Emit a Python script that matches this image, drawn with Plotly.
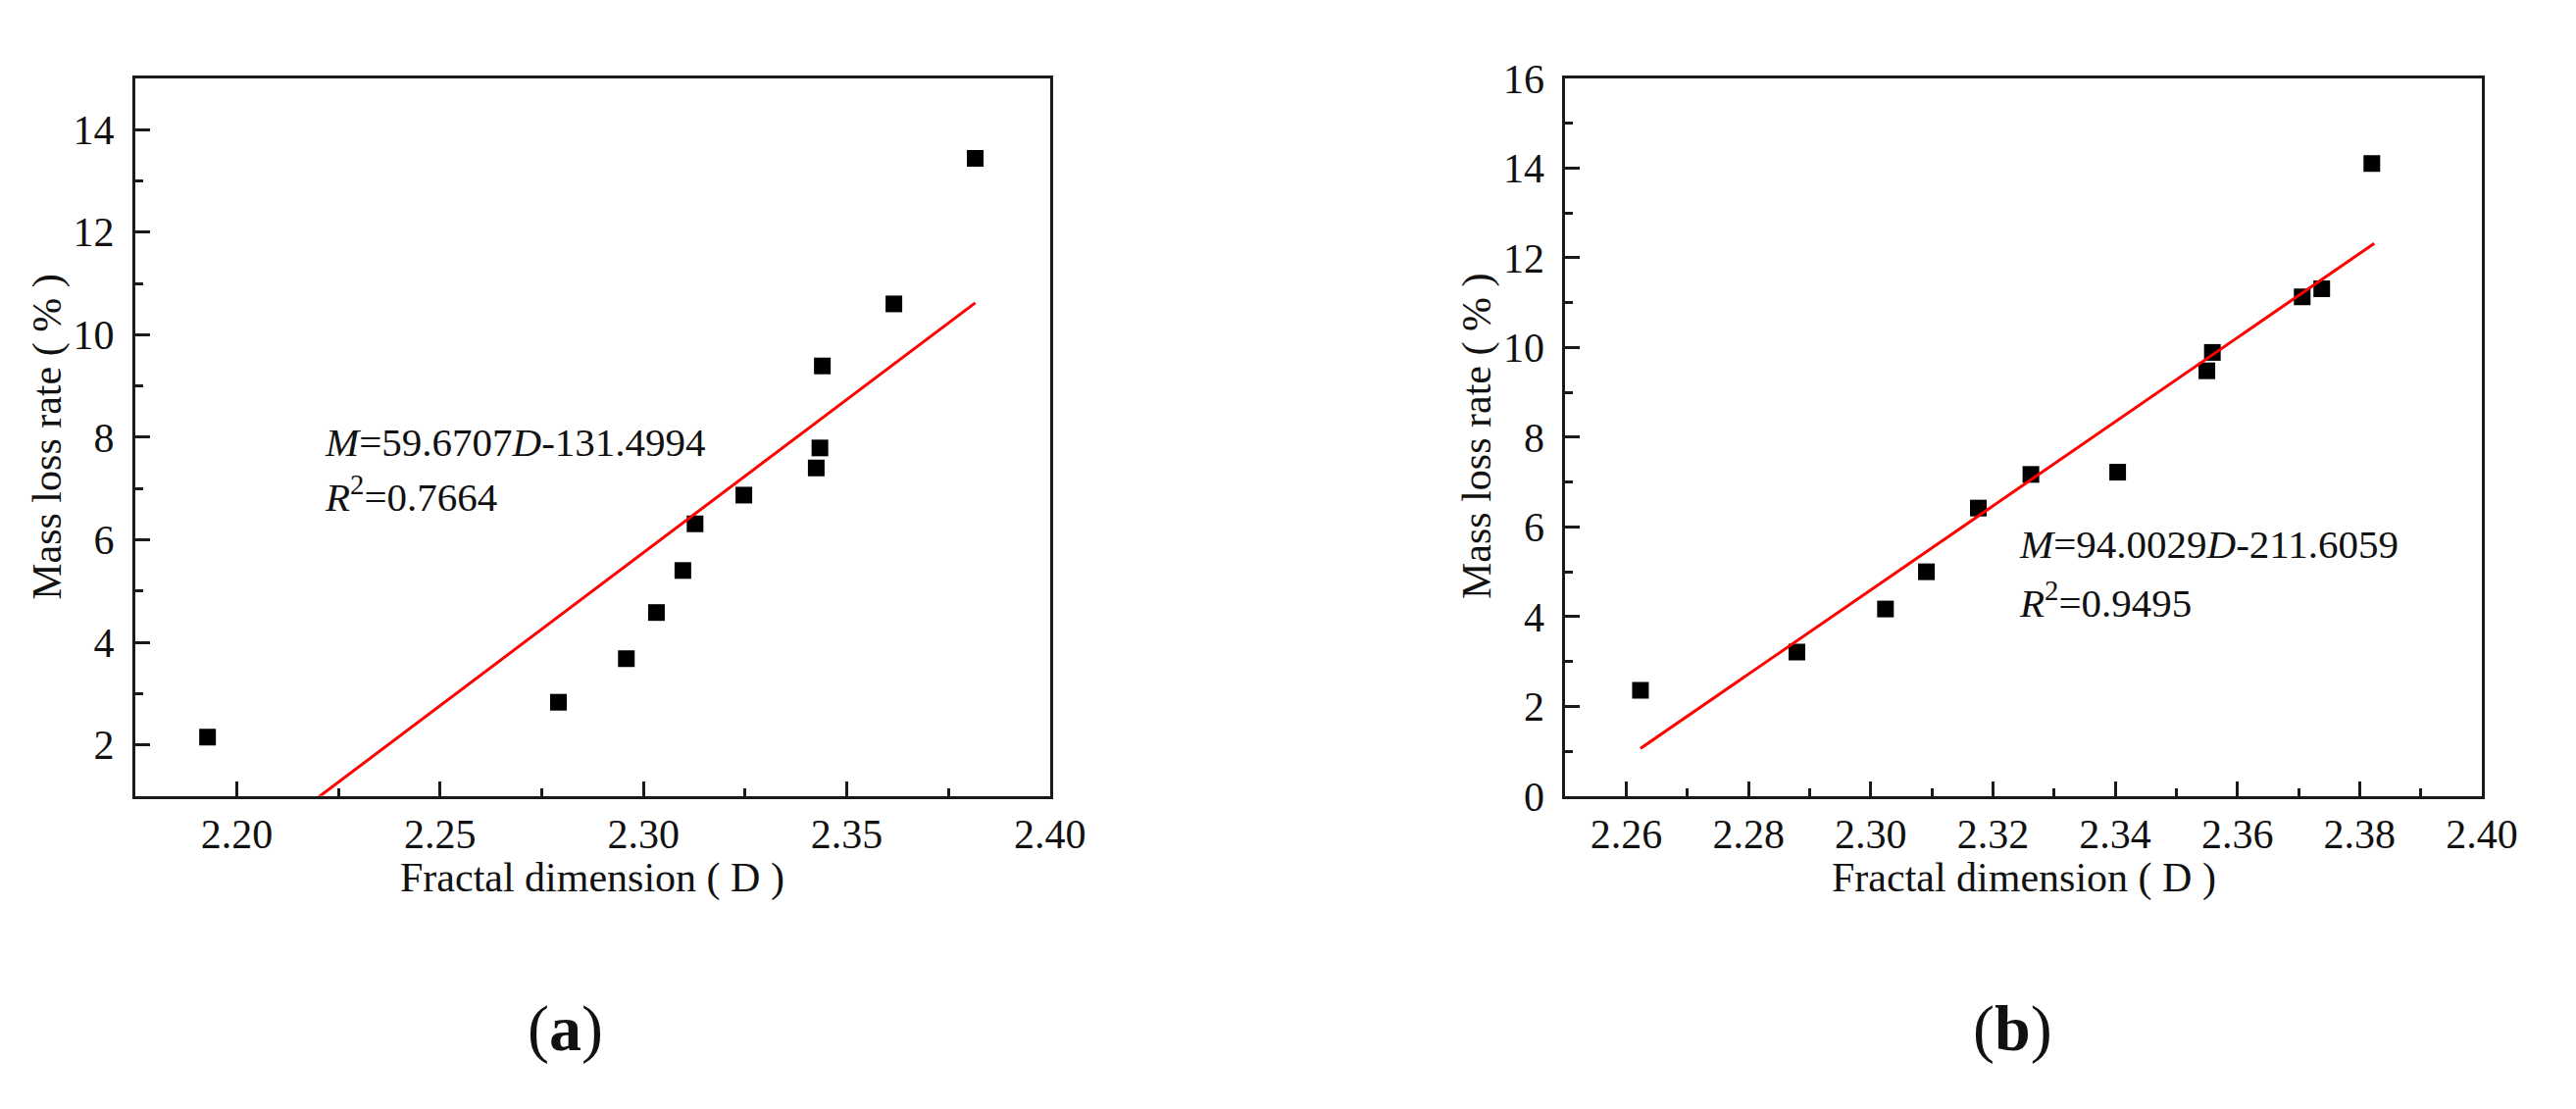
import plotly.graph_objects as go

# panel (a) measurements
a_dim = [2.1928, 2.2791, 2.2958, 2.3032, 2.3097, 2.3127, 2.3247, 2.3425, 2.3434, 2.3440, 2.3616, 2.3816]
a_loss = [2.15, 2.83, 3.68, 4.58, 5.40, 6.31, 6.87, 7.40, 7.79, 9.39, 10.60, 13.44]
a_fit_x = [2.1928, 2.3816]
a_fit_y = [-0.65, 10.62]
a_eq = "<i>M</i>=59.6707<i>D</i>-131.4994"
a_r2 = "<i>R</i><sup>2</sup>=0.7664"

# panel (b) measurements
b_dim = [2.2623, 2.2879, 2.3024, 2.3091, 2.3176, 2.3262, 2.3404, 2.3550, 2.3559, 2.3706, 2.3738, 2.3820]
b_loss = [2.36, 3.21, 4.17, 5.00, 6.42, 7.17, 7.22, 9.48, 9.89, 11.13, 11.31, 14.10]
b_fit_x = [2.2623, 2.3824]
b_fit_y = [1.06, 12.32]
b_eq = "<i>M</i>=94.0029<i>D</i>-211.6059"
b_r2 = "<i>R</i><sup>2</sup>=0.9495"

x_title = "Fractal dimension ( D )"
y_title = "Mass loss rate ( % )"

W, H = 2627, 1131
FONT = "Liberation Serif"
INK = "#1a1a1a"


def px(x):
    return x / W


def py(y):
    return 1 - y / H


fig = go.Figure()

fig.add_trace(go.Scatter(x=a_dim, y=a_loss, mode="markers", xaxis="x", yaxis="y",
                         marker=dict(symbol="square", size=17, color="black"),
                         showlegend=False))
fig.add_trace(go.Scatter(x=a_fit_x, y=a_fit_y, mode="lines", xaxis="x", yaxis="y",
                         line=dict(color="#ff0000", width=3), showlegend=False))
fig.add_trace(go.Scatter(x=b_dim, y=b_loss, mode="markers", xaxis="x2", yaxis="y2",
                         marker=dict(symbol="square", size=17, color="black"),
                         showlegend=False))
fig.add_trace(go.Scatter(x=b_fit_x, y=b_fit_y, mode="lines", xaxis="x2", yaxis="y2",
                         line=dict(color="#ff0000", width=3), showlegend=False))


def ax(rng, dtick, tick0, minor_dtick, domain, fmt, anchor, standoff):
    return dict(range=rng, domain=domain, anchor=anchor,
                dtick=dtick, tick0=tick0, tickformat=fmt,
                ticks="inside", ticklen=15, tickwidth=3, tickcolor=INK,
                minor=dict(ticks="inside", ticklen=8, tickwidth=3, tickcolor=INK,
                           dtick=minor_dtick),
                showline=True, linecolor=INK, linewidth=3, mirror=True,
                showgrid=False, zeroline=False, ticklabelstandoff=standoff,
                tickfont=dict(family=FONT, size=42, color="#111"))


ydom = [py(815), py(52)]
layout = dict(
    width=W, height=H,
    margin=dict(l=0, r=0, t=0, b=0),
    plot_bgcolor="white", paper_bgcolor="white",
    xaxis=ax([2.175, 2.40], 0.05, 2.20, 0.025, [px(131.7), px(1078)], ".2f", "y", 0),
    yaxis=ax([1, 15], 2, 0, 1, ydom, "d", "x", 10),
    xaxis2=ax([2.25, 2.40], 0.02, 2.26, 0.01, [px(1611), px(2559)], ".2f", "y2", 0),
    yaxis2=ax([0, 16], 2, 0, 1, ydom, "d", "x2", 10),
)

txt = dict(family=FONT, size=42, color="#111")
annotations = [
    # axis titles
    dict(x=px(605), y=py(902), text=x_title),
    dict(x=px(2085), y=py(902), text=x_title),
    dict(x=px(41), y=py(433), text=y_title, textangle=-90),
    dict(x=px(1520), y=py(433), text=y_title, textangle=-90),
    # panel labels
    dict(x=px(577), y=py(1062), text="(<b>a</b>)", font=dict(family=FONT, size=66, color="#111")),
    dict(x=px(2074), y=py(1062), text="(<b>b</b>)", font=dict(family=FONT, size=66, color="#111")),
]
for a in annotations:
    a.update(xref="paper", yref="paper", showarrow=False, xanchor="center", yanchor="middle")
    a.setdefault("font", txt)

# regression equations
for x0, y0, t in [(326, 439, a_eq), (326, 494, a_r2), (2078, 547, b_eq), (2078, 607, b_r2)]:
    annotations.append(dict(x=px(x0), y=py(y0), text=t, xref="paper", yref="paper",
                            showarrow=False, xanchor="left", yanchor="middle",
                            font=dict(family=FONT, size=41, color="#111")))

layout["annotations"] = annotations
fig.update_layout(layout)

fig.write_html("out.html")
